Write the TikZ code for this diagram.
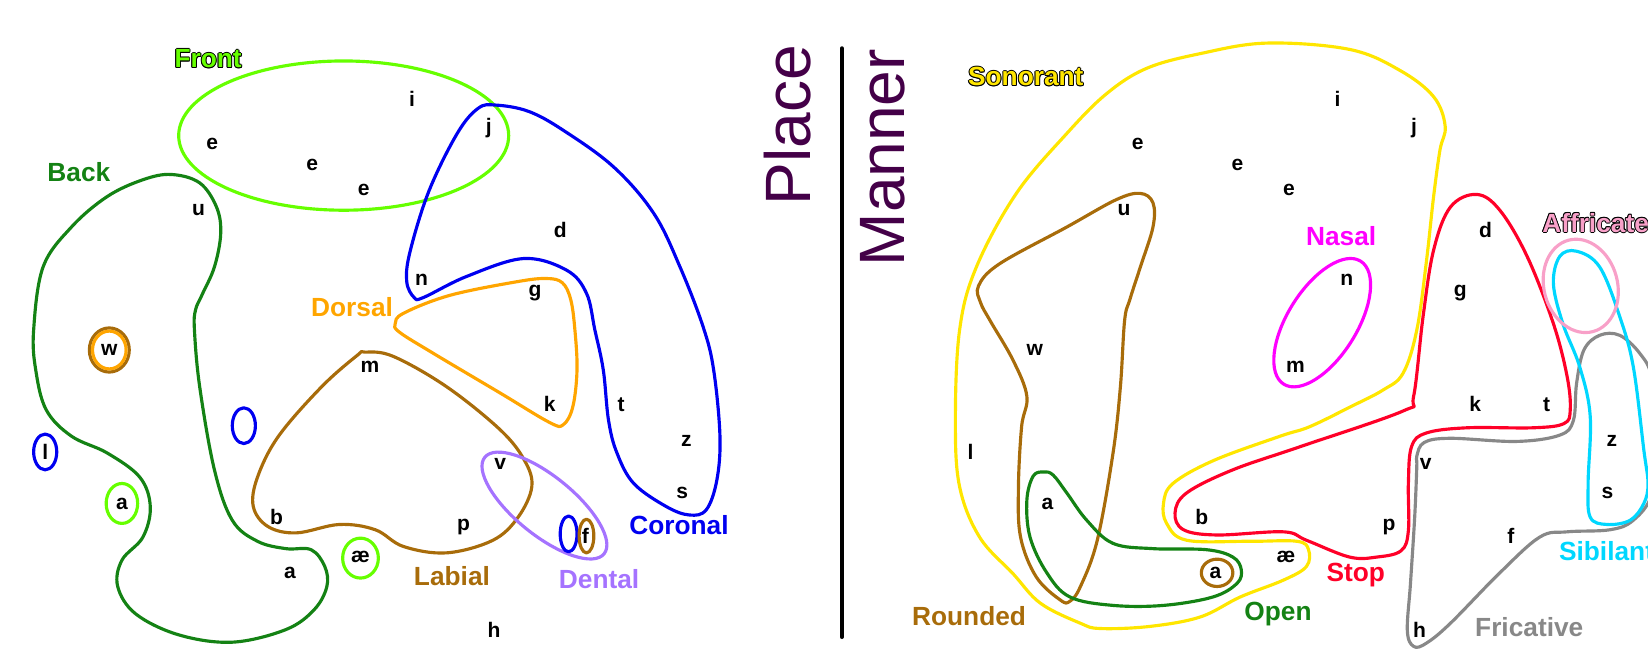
\documentclass[tikz,border=0pt]{standalone}
\usepackage{fontspec}
\setmainfont{Liberation Sans}
\definecolor{frontc}{RGB}{102,255,0}
\definecolor{backc}{RGB}{20,130,20}
\definecolor{coronalc}{RGB}{0,0,240}
\definecolor{dorsalc}{RGB}{255,165,0}
\definecolor{labialc}{RGB}{168,108,10}
\definecolor{dentalc}{RGB}{165,115,255}
\definecolor{placec}{RGB}{68,0,72}
\definecolor{sonorc}{RGB}{255,230,0}
\definecolor{nasalc}{RGB}{255,0,255}
\definecolor{stopc}{RGB}{255,0,40}
\definecolor{fricc}{RGB}{136,136,136}
\definecolor{sibc}{RGB}{0,215,255}
\definecolor{affc}{RGB}{248,160,200}
\newcommand\outlinedtext[2]{%
\makebox[0pt][l]{\color{black}\hspace*{0.45pt}#2}%
\makebox[0pt][l]{\color{black}\hspace*{-0.45pt}#2}%
\makebox[0pt][l]{\color{black}\raisebox{0.45pt}{#2}}%
\makebox[0pt][l]{\color{black}\raisebox{-0.45pt}{#2}}%
\makebox[0pt][l]{\color{black}\hspace*{0.32pt}\raisebox{0.32pt}{#2}}%
\makebox[0pt][l]{\color{black}\hspace*{-0.32pt}\raisebox{0.32pt}{#2}}%
\makebox[0pt][l]{\color{black}\hspace*{0.32pt}\raisebox{-0.32pt}{#2}}%
\makebox[0pt][l]{\color{black}\hspace*{-0.32pt}\raisebox{-0.32pt}{#2}}%
{\color{#1}#2}}
\tikzset{
  blob/.style={line width=1.5pt, line join=round},
  ltr/.style={font=\bfseries\fontsize{10}{12}\selectfont, inner sep=0pt},
  lbl/.style={font=\bfseries\fontsize{12.5}{15}\selectfont, inner sep=0pt},
  bigtitle/.style={font=\fontsize{30.5}{36}\selectfont, text=placec, inner sep=0pt, rotate=90, anchor=base},
}
\begin{document}
\begin{tikzpicture}[x=0.5pt,y=-0.5pt]
\useasboundingbox (0,0) rectangle (1568,617);
\clip (0,0) rectangle (1568,617);

% ================= PLACE =================
% Front
\draw[blob, frontc] (327,129) ellipse [x radius=157, y radius=71];
% Back
\draw[blob, backc] plot[smooth cycle, tension=0.6] coordinates {
 (163,166) (190,174) (206,197) (210,222) (204,254) (192,281) (186,295) (185,314)
 (190,368) (204,447) (221,495) (245,515) (272,522) (296,523) (309,539) (311,558)
 (299,580) (272,599) (221,611) (170,604) (129,584) (112,558) (116,533) (136,511)
 (143,482) (133,454) (102,431) (68,415) (44,390) (34,352) (32,314) (41,254)
 (68,216) (102,187) (136,171)};
% Coronal
\draw[blob, coronalc] plot[smooth cycle, tension=0.6] coordinates {
 (394,283) (387,268) (390,240) (408,182) (435,127) (455,103) (472,100) (503,106)
 (536,124) (584,159) (622,203) (647,254) (669,311) (679,352) (685,415) (682,457)
 (672,485) (656,490) (634,482) (603,460) (587,431) (579,400) (574,352) (566,314)
 (558,279) (539,257) (498,246) (444,263) (403,283)};
% Dorsal
\draw[blob, dorsalc] plot[smooth cycle, tension=0.6] coordinates {
 (376,308) (384,298) (428,281) (492,268) (520,265) (535,269) (543,285) (547,314)
 (549,352) (545,387) (536,404) (523,402) (476,374) (412,336) (380,316)};
% Labial
\draw[blob, labialc] plot[smooth cycle, tension=0.6] coordinates {
 (347,335) (374,339) (425,368) (476,409) (499,438) (506,463) (493,492) (469,514)
 (425,526) (384,520) (357,504) (323,499) (282,507) (255,501) (241,482) (245,454)
 (265,415) (306,368) (340,338)};
% Dental
\draw[blob, dentalc, rotate around={-39:(518,481)}] (518,481) ellipse [x radius=73, y radius=28];
% small rings
\draw[blob, labialc] (104,333) ellipse [x radius=19, y radius=21];
\draw[blob, dorsalc] (104,333) ellipse [x radius=16, y radius=18];
\draw[blob, coronalc] (232,405) ellipse [x radius=11, y radius=17];
\draw[blob, coronalc] (43,430) ellipse [x radius=11, y radius=17];
\draw[blob, frontc] (116,479) ellipse [x radius=15, y radius=19];
\draw[blob, frontc] (343,531) ellipse [x radius=17, y radius=19];
\draw[blob, coronalc] (541,508) ellipse [x radius=8, y radius=17];
\draw[blob, labialc] (558,510) ellipse [x radius=7, y radius=16];

% labels
\node[lbl] (front) at (198,56) {\outlinedtext{frontc}{Front}};
\node[lbl, text=backc] (back) at (75,164) {Back};
\node[lbl, text=dorsalc] (dorsal) at (335,292) {Dorsal};
\node[lbl, text=coronalc] (coronal) at (646,500) {Coronal};
\node[lbl, text=labialc] (labial) at (430,548) {Labial};
\node[lbl, text=dentalc] (dental) at (570,551) {Dental};

% divider and titles
\coordinate (divtop) at (801,46);
\coordinate (divbot) at (801,606);
\draw[line width=2pt, line cap=round] (divtop) -- (divbot);
\node[bigtitle] (place) at (771,119) {Place};
\node[bigtitle] (manner) at (861,150) {Manner};

% ================= MANNER =================
% Sonorant
\draw[blob, sonorc] plot[smooth cycle, tension=0.6] coordinates {
 (1205,41) (1284,47) (1332,67) (1364,92) (1375,120) (1370,143) (1364,187) (1357,250)
 (1348,314) (1335,355) (1316,371) (1285,387) (1246,406) (1218,415) (1155,438) (1116,460)
 (1107,479) (1110,498) (1129,514) (1189,515) (1234,515) (1245,523) (1243,539) (1221,552)
 (1180,568) (1142,587) (1094,596) (1047,598) (1028,593) (990,574) (964,546) (932,511)
 (913,463) (909,400) (913,314) (929,254) (967,184) (1015,127) (1053,89) (1091,65) (1142,51)};
% Rounded
\draw[blob, labialc] plot[smooth cycle, tension=0.6] coordinates {
 (1085,184) (1097,193) (1097,216) (1085,254) (1075,285) (1070,305) (1066,368) (1059,431)
 (1044,514) (1028,558) (1018,572) (1009,571) (986,549) (971,511) (969,463) (972,406)
 (977,377) (964,343) (942,305) (933,288) (931,272) (951,251) (1015,216) (1062,190)};
% Open
\draw[blob, backc] plot[smooth cycle, tension=0.6] coordinates {
 (993,449) (1002,452) (1015,469) (1034,495) (1059,517) (1097,522) (1148,523) (1173,530)
 (1181,542) (1177,555) (1154,568) (1107,576) (1059,576) (1018,568) (996,545) (980,511)
 (977,476) (983,453)};
\draw[blob, labialc] (1158,545) ellipse [x radius=15, y radius=13];
% Nasal
\draw[blob, nasalc, rotate around={-32:(1258,307)}] (1258,307) ellipse [x radius=33, y radius=69];
% Stop
\draw[blob, stopc] plot[smooth cycle, tension=0.6] coordinates {
 (1405,185) (1427,200) (1453,244) (1478,308) (1491,358) (1494,390) (1488,403) (1459,407)
 (1396,407) (1357,412) (1343,425) (1340,460) (1340,505) (1333,524) (1310,530) (1284,530)
 (1243,514) (1221,506) (1158,509) (1126,504) (1118,488) (1129,469) (1173,447) (1237,425)
 (1335,391) (1345,377) (1354,301) (1364,238) (1380,197)};
% Fricative
\draw[blob, fricc] plot[smooth cycle, tension=0.6] coordinates {
 (1348,434) (1355,421) (1380,417) (1443,420) (1484,414) (1497,400) (1500,365) (1507,333)
 (1522,319) (1541,319) (1560,336) (1572,360) (1580,420) (1572,470) (1554,495) (1532,504)
 (1491,506) (1465,511) (1427,545) (1380,593) (1357,612) (1345,615) (1339,600) (1342,555)
 (1346,492) (1348,444)};
% Sibilant
\draw[blob, sibc] plot[smooth cycle, tension=0.6] coordinates {
 (1500,239) (1522,254) (1541,301) (1554,349) (1564,428) (1568,460) (1564,479) (1551,495)
 (1529,499) (1513,492) (1511,460) (1513,396) (1503,349) (1487,308) (1478,270) (1484,244)};
% Affricate
\draw[blob, affc, rotate around={15:(1504,272)}] (1504,272) ellipse [x radius=35, y radius=45];

% labels
\node[lbl] (sonorant) at (976,73) {\outlinedtext{sonorc}{Sonorant}};
\node[lbl, text=nasalc] (nasal) at (1276,225) {Nasal};
\node[lbl, anchor=west] (affricate) at (1467,212) {\outlinedtext{affc}{Affricate}};
\node[lbl, text=sibc, anchor=west] (sibilant) at (1483,524) {Sibilant};
\node[lbl, text=labialc] (rounded) at (922,586) {Rounded};
\node[lbl, text=backc] (open) at (1216,584) {Open};
\node[lbl, text=stopc] (stop) at (1290,547) {Stop};
\node[lbl, text=fricc] (fricative) at (1455,597) {Fricative};

% letters (same layout in both panels)
\foreach \side/\dx in {p/0, m/880.5} {
  \foreach \nm/\t/\x/\y in {
    i/i/392/94, ea/e/202/137, eb/e/297/157, ec/e/346/181, j/j/465/122, u/u/189/200,
    d/d/533/219, n/n/401/266, g/g/509/279, w/w/104/333, mm/m/352/349, k/k/523/384,
    t/t/591/385, l/l/43/430, v/v/476/441, z/z/653/420, aa/a/116/479, s/s/649/469,
    b/b/263/492, pp/p/441/501, ae/æ/343/530, f/f/557/510, ab/a/276/545, h/h/470/599} {
    \node[ltr] (\side-\nm) at (\x+\dx,\y) {\t};
  }
}
\end{tikzpicture}
\end{document}
